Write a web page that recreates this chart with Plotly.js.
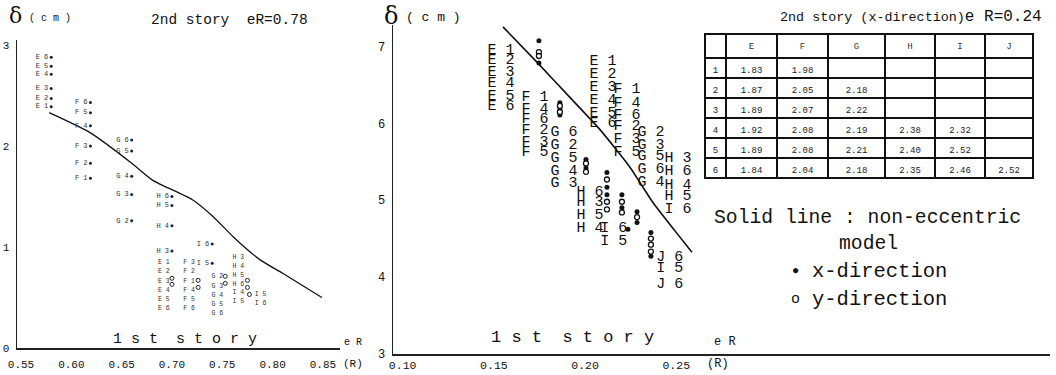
<!DOCTYPE html>
<html><head><meta charset="utf-8">
<script src="https://cdn.plot.ly/plotly-3.0.1.min.js"></script>
<style>html,body{margin:0;padding:0;background:#fff}#chart{width:1056px;height:375px}</style>
</head><body><div id="chart"></div>
<script>
// ---------- Left panel (eR = 0.78) ----------
const leftTickVals = [0.55, 0.60, 0.65, 0.70, 0.75, 0.80, 0.85];
const leftTickText = ['0.55', '0.60', '0.65', '0.70', '0.75', '0.80', '0.85'];
const leftLineX = [0.578, 0.619, 0.660, 0.681, 0.720, 0.741, 0.761, 0.788, 0.810, 0.849];
const leftLineY = [2.33, 2.13, 1.83, 1.66, 1.47, 1.30, 1.10, 0.87, 0.74, 0.50];
// 2nd story points (labelled)
const left2ndLabel = ['E 1','E 2','E 3','E 4','E 5','E 6','F 1','F 2','F 3','F 4','F 5','F 6','G 2','G 3','G 4','G 5','G 6','H 3','H 4','H 5','H 6','I 5','I 6'];
const left2ndX = [0.580,0.580,0.580,0.580,0.580,0.580,0.619,0.619,0.619,0.619,0.619,0.619,0.660,0.660,0.660,0.660,0.660,0.700,0.700,0.700,0.700,0.740,0.740];
const left2ndY = [2.39,2.47,2.57,2.71,2.79,2.88,1.68,1.83,2.00,2.20,2.33,2.43,1.26,1.52,1.70,1.95,2.06,0.96,1.21,1.41,1.50,0.84,1.03];
// 1st story labels (small columns)
const left1stLabel = ['E 1','E 2','E 3','E 4','E 5','E 6','F 3','F 2','F 1','F 4','F 5','F 6','G 2','G 3','G 4','G 5','G 6','H 3','H 4','H 5','H 6','I 4','I 5','I 5','I 6'];
const left1stX = [0.692,0.692,0.692,0.692,0.692,0.692,0.717,0.717,0.717,0.717,0.717,0.717,0.745,0.745,0.745,0.745,0.745,0.766,0.766,0.766,0.766,0.766,0.766,0.788,0.788];
const left1stY = [0.85,0.76,0.66,0.57,0.48,0.39,0.85,0.76,0.66,0.57,0.48,0.39,0.71,0.61,0.52,0.43,0.34,0.90,0.81,0.72,0.63,0.55,0.46,0.53,0.44];
const left1stMarkX = [0.700,0.700,0.726,0.726,0.753,0.753,0.775,0.775,0.777];
const left1stMarkY = [0.69,0.63,0.67,0.60,0.71,0.64,0.67,0.60,0.53];

// ---------- Right panel (eR = 0.24) ----------
const rightTickVals = [0.10, 0.15, 0.20, 0.25];
const rightTickText = ['0.10', '0.15', '0.20', '0.25'];
const rightLineX = [0.155, 0.1736, 0.1917, 0.2082, 0.2246, 0.2372, 0.2493, 0.2586];
const rightLineY = [7.26, 6.80, 6.34, 5.92, 5.43, 4.97, 4.60, 4.32];
const rightLabel = ['E 1','E 2','E 3','E 4','E 5','E 6',
  'F 1','F 4','F 6','F 2','F 3','F 5',
  'G 6','G 2','G 5','G 4','G 3',
  'H 6','H 3','H 5','H 4','I 6','I 5',
  'E 1','E 2','E 3','E 4','E 5','E 6',
  'F 1','F 4','F 6','F 2','F 3','F 5',
  'G 2','G 3','G 5','G 6','G 4',
  'H 3','H 6','H 4','H 5','I 6',
  'J 6','I 5','J 6'];
const rightLabelX = [0.1539,0.1539,0.1539,0.1539,0.1539,0.1539,
  0.1725,0.1725,0.1725,0.1725,0.1725,0.1725,
  0.1884,0.1884,0.1884,0.1884,0.1884,
  0.2027,0.2027,0.2027,0.2027,0.2158,0.2158,
  0.2098,0.2098,0.2098,0.2098,0.2098,0.2098,
  0.2230,0.2230,0.2230,0.2230,0.2230,0.2230,
  0.2361,0.2361,0.2361,0.2361,0.2361,
  0.2509,0.2509,0.2509,0.2509,0.2509,
  0.2465,0.2465,0.2465];
const rightLabelY = [6.96,6.82,6.67,6.52,6.36,6.22,
  6.34,6.19,6.05,5.91,5.76,5.62,
  5.88,5.71,5.55,5.38,5.22,
  5.11,4.97,4.81,4.63,4.63,4.46,
  6.81,6.64,6.47,6.30,6.14,6.00,
  6.44,6.27,6.11,5.96,5.79,5.63,
  5.88,5.72,5.57,5.41,5.23,
  5.55,5.38,5.20,5.05,4.88,
  4.26,4.11,3.90];
// x-direction (filled) and y-direction (open) results
const xDirX = [0.1747,0.1747,0.1862,0.1862,0.1862,0.2005,0.2005,0.2120,0.2120,0.2120,0.2202,0.2202,0.2235,0.2285,0.2285,0.2361,0.2361];
const xDirY = [7.08,6.79,6.27,6.19,6.11,5.53,5.42,5.36,5.17,5.07,5.07,4.90,4.62,4.85,4.71,4.58,4.27];
const yDirX = [0.1747,0.1747,0.1862,0.1862,0.2005,0.2005,0.2120,0.2120,0.2120,0.2202,0.2202,0.2285,0.2361,0.2361,0.2361];
const yDirY = [6.93,6.88,6.23,6.15,5.48,5.37,5.27,4.98,4.88,4.98,4.84,4.78,4.50,4.42,4.33];

// ---------- Table: 2nd story (x-direction) eR = 0.24 ----------
const tableHeaders = ['', 'E', 'F', 'G', 'H', 'I', 'J'];
const tableRows = ['1', '2', '3', '4', '5', '6'];
const colE = [1.83, 1.87, 1.89, 1.92, 1.89, 1.84];
const colF = [1.98, 2.05, 2.07, 2.08, 2.08, 2.04];
const colG = [null, 2.18, 2.22, 2.19, 2.21, 2.18];
const colH = [null, null, null, 2.38, 2.40, 2.35];
const colI = [null, null, null, 2.32, 2.52, 2.46];
const colJ = [null, null, null, null, null, 2.52];

const MONO = 'Liberation Mono, DejaVu Sans Mono, monospace';
const fmt = a => a.map(v => v == null ? '' : v.toFixed(2));

const traces = [
  {x: leftLineX, y: leftLineY, xaxis: 'x', yaxis: 'y', mode: 'lines', type: 'scatter',
   line: {color: '#111', width: 1.3, shape: 'spline', smoothing: 0.6}, hoverinfo: 'skip'},
  {x: left2ndX, y: left2ndY, xaxis: 'x', yaxis: 'y', mode: 'markers+text', type: 'scatter',
   text: left2ndLabel, textposition: 'middle left', cliponaxis: false,
   textfont: {family: MONO, size: 7, color: '#333'},
   marker: {size: 3, color: '#222'}},
  {x: left1stX, y: left1stY, xaxis: 'x', yaxis: 'y', mode: 'text', type: 'scatter',
   text: left1stLabel, textposition: 'middle center', cliponaxis: false,
   textfont: {family: MONO, size: 6.5, color: '#333'}},
  {x: left1stMarkX, y: left1stMarkY, xaxis: 'x', yaxis: 'y', mode: 'markers', type: 'scatter',
   marker: {size: 4, color: '#fff', line: {color: '#222', width: 1}}},
  {x: rightLineX, y: rightLineY, xaxis: 'x2', yaxis: 'y2', mode: 'lines', type: 'scatter',
   line: {color: '#111', width: 1.6, shape: 'spline', smoothing: 0.5}, hoverinfo: 'skip'},
  {x: rightLabelX, y: rightLabelY, xaxis: 'x2', yaxis: 'y2', mode: 'text', type: 'scatter',
   text: rightLabel, textposition: 'middle center', cliponaxis: false,
   textfont: {family: MONO, size: 15, color: '#111'}},
  {x: xDirX, y: xDirY, xaxis: 'x2', yaxis: 'y2', mode: 'markers', type: 'scatter', cliponaxis: false,
   marker: {size: 5, color: '#111'}},
  {x: yDirX, y: yDirY, xaxis: 'x2', yaxis: 'y2', mode: 'markers', type: 'scatter', cliponaxis: false,
   marker: {size: 5, color: '#fff', line: {color: '#111', width: 1.3}}},
  {type: 'table',
   domain: {x: [705/1056, 1033/1056], y: [1 - 182/375, 1 - 34/375]},
   columnwidth: [21, 51, 51, 57, 50, 50, 48],
   header: {values: tableHeaders, height: 24, align: 'center',
     line: {color: '#111', width: 1.5}, fill: {color: '#fff'},
     font: {family: MONO, size: 9, color: '#333'}},
   cells: {values: [tableRows, fmt(colE), fmt(colF), fmt(colG), fmt(colH), fmt(colI), fmt(colJ)],
     height: 20, align: 'center',
     line: {color: '#111', width: 1.5}, fill: {color: '#fff'},
     font: {family: MONO, size: 9, color: '#222'}}}
];

const axBase = {showline: true, linecolor: '#222', linewidth: 1.5, showgrid: false, zeroline: false,
  ticks: '', automargin: false, tickfont: {family: MONO, size: 11, color: '#111'}, fixedrange: true};

function px2paperX(p) { return p / 1056; }
function px2paperY(p) { return 1 - p / 375; }
function ann(text, px, py, size, anchor, extra) {
  return Object.assign({text: text, xref: 'paper', yref: 'paper', x: px2paperX(px), y: px2paperY(py),
    xanchor: anchor || 'left', yanchor: 'middle', showarrow: false,
    font: {family: MONO, size: size, color: '#111'}}, extra || {});
}

const layout = {
  width: 1056, height: 375, margin: {l: 0, r: 0, t: 0, b: 0},
  paper_bgcolor: '#fff', plot_bgcolor: 'rgba(0,0,0,0)', showlegend: false,
  font: {family: MONO, color: '#111'},
  xaxis: Object.assign({}, axBase, {domain: [17/1056, 340/1056], range: [0.546, 0.867], anchor: 'y',
    tickvals: leftTickVals, ticktext: leftTickText, ticklabelstandoff: 5}),
  yaxis: Object.assign({}, axBase, {domain: [1 - 348/375, 1 - 40/375], range: [0, 3.05], anchor: 'x',
    tickvals: [0, 1, 2, 3], ticklabelstandoff: 4}),
  xaxis2: Object.assign({}, axBase, {domain: [393/1056, 1050/1056], range: [0.0947, 0.4549], anchor: 'y2',
    tickvals: rightTickVals, ticktext: rightTickText, ticklabelstandoff: 0, tickfont: {family: MONO, size: 11.5, color: '#111'}}),
  yaxis2: Object.assign({}, axBase, {domain: [1 - 354/375, 1 - 25/375], range: [2.995, 7.284], anchor: 'x2',
    tickvals: [3, 4, 5, 6, 7], ticklabelstandoff: 4, tickfont: {family: MONO, size: 12, color: '#111'}}),
  annotations: [
    ann('δ', 7, 16, 22, 'left', {font: {family: 'DejaVu Serif, serif', size: 22, color: '#111'}}),
    ann('( c m )', 27, 18, 10, 'left'),
    ann('2nd story  eR=0.78', 229, 20, 14.5, 'center'),
    ann('1 s t  s t o r y', 185, 339, 15, 'center'),
    ann('e R', 342, 342, 10, 'left'),
    ann('(R)', 341, 364, 11, 'left'),
    ann('δ', 382, 16, 24, 'left', {font: {family: 'DejaVu Serif, serif', size: 24, color: '#111'}}),
    ann('( c m )', 404, 17, 13, 'left'),
    ann('2nd story (x-direction)<span style="font-size:16px">e R=0.24</span>', 778, 17, 13.4, 'left'),
    ann('1 s t  s t o r y', 572, 337, 17, 'center'),
    ann('e R', 712, 342, 12, 'left'),
    ann('(R)', 705, 364, 12, 'left'),
    ann('Solid line : non-eccentric', 712, 218, 19.7, 'left'),
    ann('model', 837, 244, 19.7, 'left'),
    ann('●', 795, 271, 12, 'center'),
    ann('x-direction', 810, 271, 20.5, 'left'),
    ann('o', 795, 299, 15, 'center'),
    ann('y-direction', 810, 299, 20.5, 'left')
  ]
};

Plotly.newPlot('chart', traces, layout, {displayModeBar: false, staticPlot: true});
</script></body></html>
